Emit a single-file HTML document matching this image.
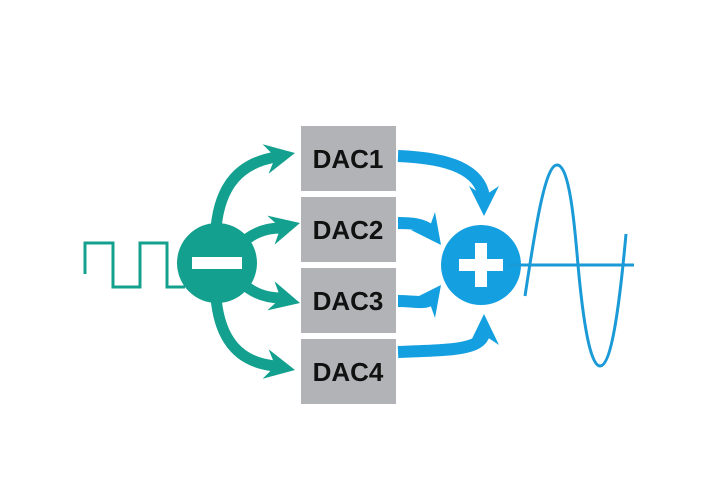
<!DOCTYPE html>
<html><head><style>
html,body{margin:0;padding:0;background:#fff;width:702px;height:496px;overflow:hidden}
text{font-family:"Liberation Sans","DejaVu Sans",sans-serif;font-weight:bold}
</style></head><body>
<svg width="702" height="496" viewBox="0 0 702 496" xmlns="http://www.w3.org/2000/svg">
<rect x="301" y="126" width="95" height="65" fill="#b1b3b6"/>
<rect x="301" y="197" width="95" height="65" fill="#b1b3b6"/>
<rect x="301" y="268" width="95" height="65" fill="#b1b3b6"/>
<rect x="301" y="339" width="95" height="65" fill="#b1b3b6"/>
<text x="348" y="168" font-size="26" text-anchor="middle" fill="#111">DAC1</text>
<text x="348" y="239" font-size="26" text-anchor="middle" fill="#111">DAC2</text>
<text x="348" y="310" font-size="26" text-anchor="middle" fill="#111">DAC3</text>
<text x="348" y="381" font-size="26" text-anchor="middle" fill="#111">DAC4</text>
<polyline points="85,274 85,243 113,243 113,287 140,287 140,243 167,243 167,287 185,287" fill="none" stroke="#13a08e" stroke-width="3"/>
<g fill="none" stroke="#13a08e" stroke-width="11">
<path d="M216,228 C220,185 240,163 276,157"/>
<path d="M240,245 C252,233 265,228 281,228"/>
<path d="M240,281 C252,293 265,298 281,298"/>
<path d="M216,298 C220,341 240,363 276,366"/>
</g>
<g fill="#13a08e">
<polygon points="295,153 268.6,173.7 275.4,157 262.6,144.3"/>
<polygon points="300,223 274.5,244.8 280.6,227.8 267.3,215.6"/>
<polygon points="300,303 274.5,281.2 280.6,298.2 267.3,310.4"/>
<polygon points="295,370 268.6,349.3 275.4,366 262.6,378.7"/>
</g>
<circle cx="217" cy="263" r="40" fill="#13a08e"/>
<rect x="192" y="257" width="50" height="12" fill="#fff"/>
<circle cx="481" cy="265" r="40" fill="#149fe0"/>
<rect x="459" y="259" width="44" height="12" fill="#fff"/>
<rect x="475" y="243" width="12" height="44" fill="#fff"/>
<g fill="none" stroke="#149fe0" stroke-width="12">
<path d="M398,156 C450,158 480,170 484,197"/>
<path d="M398,223 C412,223 422,224 430,230"/>
<path d="M398,301 C414,301 424,304 430,300"/>
<path d="M398,352 C450,350 480,350 484,334"/>
</g>
<g fill="#149fe0">
<polygon points="484,216 499,186 484,196 469,186"/>
<polygon points="441,245 411,230 429,229 435,212"/>
<polygon points="441,285 435,318 429,301 411,300"/>
<polygon points="484,314 499,345 484,335 469,345"/>
</g>
<line x1="509" y1="265" x2="634" y2="265" stroke="#1a9ad6" stroke-width="3"/>
<path d="M525,296 C535,230 545,165 557,165 C570,165 575,230 578,265 C583,320 590,366 600,366 C612,366 620,300 626,234" fill="none" stroke="#1a9ad6" stroke-width="3"/>
</svg>
</body></html>
